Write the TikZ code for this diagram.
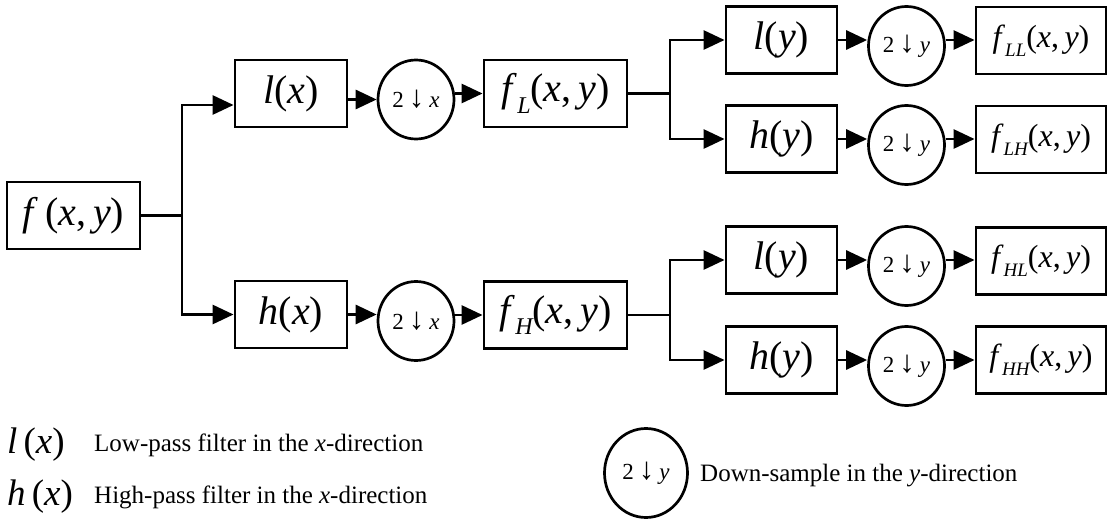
\documentclass[tikz,border=0pt]{standalone}
\usepackage{fontspec}
\setmainfont{Liberation Serif}
\usetikzlibrary{arrows.meta,shapes.geometric}
\newcommand{\mi}[1]{\textit{#1}}
\newcommand{\sbl}[1]{\raisebox{-0.28em}{\fontsize{24}{24}\selectfont\itshape #1}}
\newcommand{\sbs}[1]{\raisebox{-0.28em}{\fontsize{19}{19}\selectfont\itshape #1}}
\newcommand{\dsx}[1]{2\hspace{0.22em}{\fontsize{1.35em}{1.35em}\selectfont↓}\hspace{0.22em}\mi{#1}}
\tikzset{
  box/.style={draw, line width=2.9pt, minimum height=67pt, inner sep=0pt, font=\fontsize{40}{40}\selectfont},
  obox/.style={box, font=\fontsize{32}{32}\selectfont, minimum width=130pt},
  dsc/.style={draw, ellipse, line width=2.7pt, minimum width=76pt, minimum height=79pt, inner sep=0pt, font=\fontsize{23}{23}\selectfont},
  con/.style={line width=2.9pt},
  arr/.style={con, -{Triangle[length=21pt,width=19pt]}},
  lgtext/.style={anchor=west, inner sep=0pt, font=\fontsize{25}{25}\selectfont},
  lgsym/.style={anchor=west, inner sep=0pt, font=\fontsize{37}{37}\selectfont}
}
\begin{document}
\begin{tikzpicture}[x=1pt,y=-1pt]
\useasboundingbox (0,0) rectangle (1109,519);
% input
\node[box, minimum width=133pt] (f) at (73.5,215.5) {\mi{f}\,(\mi{x},\,\mi{y})};
\coordinate (j1) at (182,215.5);
% first stage
\node[box, minimum width=112pt] (lx) at (291,93.5) {\mi{l}(\mi{x})};
\node[dsc] (cx1) at (416,99.5) {\dsx{x}};
\node[box, minimum width=143pt] (fL) at (555.5,93.5) {\mi{f}\sbl{L}(\mi{x},\,\mi{y})};
\node[box, minimum width=112pt] (hx) at (291,314.5) {\mi{h}(\mi{x})};
\node[dsc] (cx2) at (416,321) {\dsx{x}};
\node[box, minimum width=143pt] (fH) at (555.5,315) {\mi{f}\sbl{H}(\mi{x},\,\mi{y})};
\coordinate (j2) at (670,93.5);
\coordinate (j3) at (670,315);
% second stage
\node[box, minimum width=111pt] (ly1) at (781.5,40) {\mi{l}(\mi{y})};
\node[dsc] (cy1) at (906.5,46) {\dsx{y}};
\node[obox] (fLL) at (1041,40.5) {\mi{f}\sbs{LL}(\mi{x},\,\mi{y})};
\node[box, minimum width=111pt] (hy1) at (781.5,139) {\mi{h}(\mi{y})};
\node[dsc] (cy2) at (906.5,145) {\dsx{y}};
\node[obox] (fLH) at (1041,139.5) {\mi{f}\sbs{LH}(\mi{x},\,\mi{y})};
\node[box, minimum width=111pt] (ly2) at (781.5,260) {\mi{l}(\mi{y})};
\node[dsc] (cy3) at (906.5,266) {\dsx{y}};
\node[obox] (fHL) at (1041,261) {\mi{f}\sbs{HL}(\mi{x},\,\mi{y})};
\node[box, minimum width=111pt] (hy2) at (781.5,360) {\mi{h}(\mi{y})};
\node[dsc] (cy4) at (906.5,366) {\dsx{y}};
\node[obox] (fHH) at (1041,360) {\mi{f}\sbs{HH}(\mi{x},\,\mi{y})};
% connectors first stage
\draw[con] (f.east) -- (j1);
\draw[arr] (j1) |- ([yshift=-11.5pt]lx.west);
\draw[arr] (j1) |- (hx.west);
\draw[arr] (lx.east |- cx1.west) -- (cx1.west);
\draw[arr] (cx1.east |- fL.west) -- (fL.west);
\draw[arr] (hx.east) -- (hx.east -| cx2.west);
\draw[arr] (cx2.east |- fH.west) -- (fH.west);
% connectors second stage
\draw[con] (fL.east) -- (j2);
\draw[arr] (j2) |- (ly1.west);
\draw[arr] (j2) |- (hy1.west);
\draw[con] (fH.east) -- (j3);
\draw[arr] (j3) |- (ly2.west);
\draw[arr] (j3) |- (hy2.west);
\draw[arr] (ly1.east) -- (ly1.east -| cy1.west);
\draw[arr] (cy1.east |- ly1.east) -- (fLL.west |- ly1.east);
\draw[arr] (hy1.east) -- (hy1.east -| cy2.west);
\draw[arr] (cy2.east |- hy1.east) -- (fLH.west |- hy1.east);
\draw[arr] (ly2.east) -- (ly2.east -| cy3.west);
\draw[arr] (cy3.east |- ly2.east) -- (fHL.west |- ly2.east);
\draw[arr] (hy2.east) -- (hy2.east -| cy4.west);
\draw[arr] (cy4.east |- hy2.east) -- (fHH.west |- hy2.east);
% legend
\node[lgsym] (lgl) at (7,445) {\mi{l}\,(\mi{x})};
\node[lgtext] (lglt) at (94,445) {Low-pass filter in the \mi{x}-direction};
\node[lgsym] (lgh) at (7,497) {\mi{h}\,(\mi{x})};
\node[lgtext] (lght) at (94,497) {High-pass filter in the \mi{x}-direction};
\node[dsc, minimum width=83pt, minimum height=89pt, font=\fontsize{23}{23}\selectfont] (lgc) at (646,473) {\dsx{y}};
\node[lgtext] (lgct) at (700,476) {Down-sample in the \mi{y}-direction};
\end{tikzpicture}
\end{document}
